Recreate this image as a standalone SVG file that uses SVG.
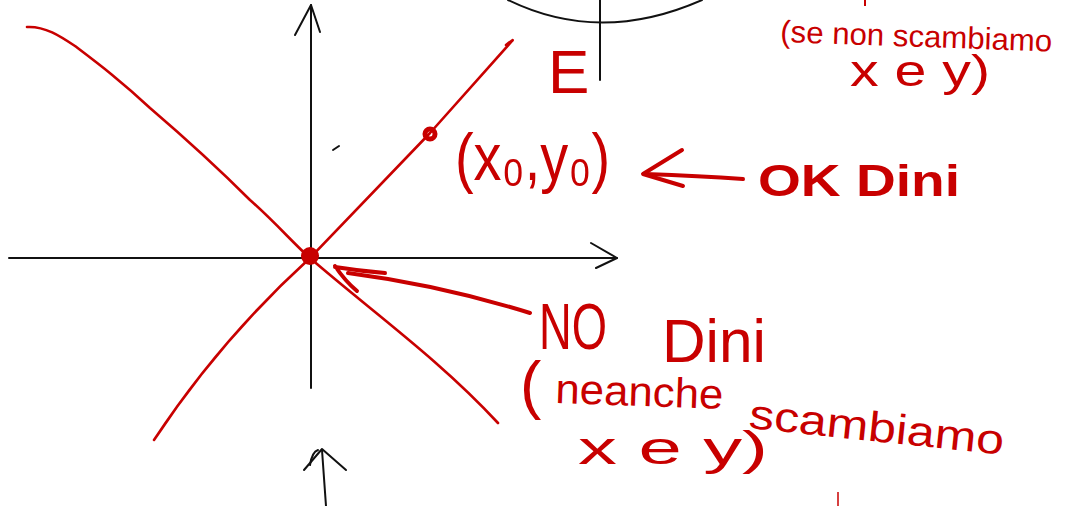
<svg xmlns="http://www.w3.org/2000/svg" width="1068" height="506" viewBox="0 0 1068 506">
<style>
.ax{fill:none;stroke:#111;stroke-width:2;stroke-linecap:round;stroke-linejoin:round}
.rc{fill:none;stroke:#c80000;stroke-width:2.6;stroke-linecap:round;stroke-linejoin:round}
.ra{fill:none;stroke:#c80000;stroke-width:4;stroke-linecap:round;stroke-linejoin:round}
.t{fill:#c80000;font-family:"Liberation Sans","DejaVu Sans",Arial,sans-serif}
</style>
<rect width="1068" height="506" fill="#fff"/>
<g id="axes">
<path class="ax" d="M508,0 Q600,45 702,0" stroke-width="2.4"/>
<path class="ax" d="M600,0 L600,80"/>
<path class="ax" d="M311,5 L311,388"/>
<path class="ax" d="M295,35 L311,5 L320,32"/>
<path class="ax" d="M9,258 L617,258"/>
<path class="ax" d="M591,243 L617,258 L596,268"/>
<path class="ax" d="M333,150 L339,146"/>
<path class="ax" d="M326,506 L322,450"/>
<path class="ax" d="M304,470 L322,449 L346,470"/>
<path class="ax" d="M310,465 Q312,452 318,450"/>
</g>
<g id="curves">
<path class="rc" d="M27,27 C45,26 60,36 75,46 C100,65 120,80 150,108 C185,138 215,165 250,200 C275,222 295,245 310,258 C370,310 440,360 498,423"/>
<path class="rc" d="M154,440 Q220,340 310,258 L430,133 L512,41 Q515,38 506,45"/>
<circle cx="310" cy="256" r="9" fill="#c80000"/>
<circle cx="430" cy="134" r="5" fill="none" stroke="#c80000" stroke-width="5"/>
<path d="M838,492 L838,506" stroke="#c80000" stroke-width="1.5" fill="none"/>
<path d="M865,0 L865,6" stroke="#c80000" stroke-width="2" fill="none"/>
</g>
<g id="connectors">
<path class="ra" d="M743,179 Q700,176 645,174"/>
<path class="ra" d="M682,150 L643,174 L683,186"/>
<path class="ra" d="M530,313 Q440,285 348,273" stroke-width="5"/>
<path class="ra" d="M385,273 Q360,271 335,267 M335,266 Q345,281 357,291"/>
</g>
<g id="label-E"><text class="t" x="548" y="93" font-size="62">E</text></g>
<g id="label-point"><text class="t" x="455" y="180" font-size="66" textLength="155" lengthAdjust="spacingAndGlyphs">(x₀,y₀)</text></g>
<g id="label-ok"><text class="t" x="758" y="196" font-size="44" font-weight="bold" textLength="202" lengthAdjust="spacingAndGlyphs">OK Dini</text></g>
<g id="label-no">
<text class="t" x="539" y="349" font-size="64" textLength="68" lengthAdjust="spacingAndGlyphs">NO</text>
<text class="t" x="662" y="362" font-size="62" textLength="104" lengthAdjust="spacingAndGlyphs">Dini</text>
<text class="t" x="520" y="407" font-size="64">(</text>
<text class="t" x="555" y="403" font-size="42" textLength="168" lengthAdjust="spacingAndGlyphs" transform="rotate(2 555 403)">neanche</text>
<text class="t" x="748" y="428" font-size="42" textLength="256" lengthAdjust="spacingAndGlyphs" transform="rotate(6 748 428)">scambiamo</text>
<text class="t" x="578" y="464" font-size="46" textLength="190" lengthAdjust="spacingAndGlyphs">x  e  y)</text>
</g>
<g id="label-top">
<text class="t" x="780" y="42" font-size="31" textLength="272" lengthAdjust="spacingAndGlyphs" transform="rotate(2 780 42)">(se non scambiamo</text>
<text class="t" x="850" y="86" font-size="44" textLength="140" lengthAdjust="spacingAndGlyphs">x e y)</text>
</g>
</svg>
